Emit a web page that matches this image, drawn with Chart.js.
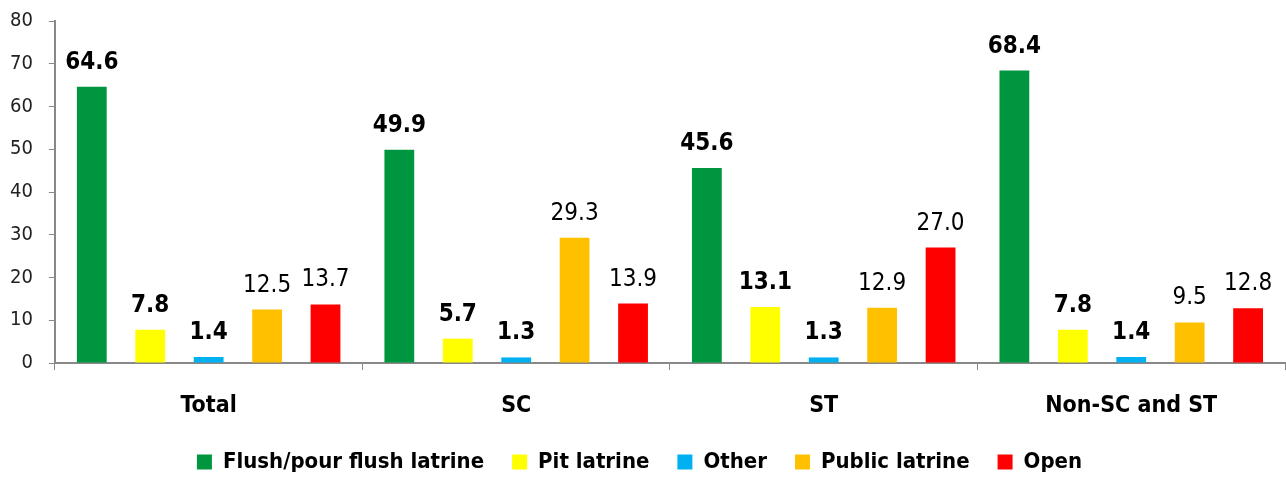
<!DOCTYPE html>
<html>
<head>
<meta charset="utf-8">
<script src="https://cdn.jsdelivr.net/npm/chart.js@4.4.1/dist/chart.umd.min.js"></script>
<style>
    html, body { margin: 0; padding: 0; background: #fff; }
    #wrap { width: 1286px; height: 477px; }
</style>
</head>
<body>
<div id="wrap"><canvas id="chart" width="1286" height="477"></canvas></div>
<script>
// 데이터
const categories = ['Total', 'SC', 'ST', 'Non-SC and ST'];
const flushValues = [64.6, 49.9, 45.6, 68.4];
const pitValues = [7.8, 5.7, 13.1, 7.8];
const otherValues = [1.4, 1.3, 1.3, 1.4];
const publicValues = [12.5, 29.3, 12.9, 9.5];
const openValues = [13.7, 13.9, 27.0, 12.8];
const yTicks = [0, 10, 20, 30, 40, 50, 60, 70, 80];

const FONT = "'Liberation Sans Narrow', 'DejaVu Sans Condensed', sans-serif";

// 막대 위 값 표시 (굵게: 앞의 3개 계열)
const valueLabels = {
    id: 'valueLabels',
    afterDatasetsDraw(chart) {
        const ctx = chart.ctx;
        ctx.save();
        chart.data.datasets.forEach((ds, i) => {
            const meta = chart.getDatasetMeta(i);
            ctx.font = (ds.boldLabel ? 'bold ' : '') + '24px ' + FONT;
            ctx.fillStyle = '#000';
            ctx.textAlign = 'center';
            ctx.textBaseline = 'alphabetic';
            meta.data.forEach((bar, j) => {
                ctx.fillText(ds.data[j].toFixed(1), bar.x, bar.y - 18);
            });
        });
        ctx.restore();
    }
};

function makeSet(label, data, color, bold) {
    return {
        label: label,
        data: data,
        backgroundColor: color,
        borderWidth: 0,
        barPercentage: 0.51,
        categoryPercentage: 0.95,
        boldLabel: bold
    };
}

new Chart(document.getElementById('chart'), {
    type: 'bar',
    data: {
        labels: categories,
        datasets: [
            makeSet('Flush/pour flush latrine', flushValues, '#00963F', true),
            makeSet('Pit latrine', pitValues, '#FFFF00', true),
            makeSet('Other', otherValues, '#00B0F0', true),
            makeSet('Public latrine', publicValues, '#FFC000', false),
            makeSet('Open', openValues, '#FF0000', false)
        ]
    },
    options: {
        responsive: false,
        animation: false,
        layout: { padding: { top: 2, left: -6, right: 1, bottom: -6 } },
        plugins: {
            tooltip: { enabled: false },
            legend: {
                position: 'bottom',
                labels: {
                    color: '#000',
                    font: { family: FONT, size: 22, weight: 'bold' },
                    boxWidth: 15,
                    boxHeight: 15,
                    padding: 28
                }
            }
        },
        scales: {
            x: {
                afterFit(axis) { axis.height = 60; },
                grid: { drawOnChartArea: false, color: '#888', tickLength: 7 },
                border: { color: '#888', width: 2 },
                ticks: {
                    color: '#000',
                    padding: 22,
                    font: { family: FONT, size: 23, weight: 'bold' }
                }
            },
            y: {
                min: 0,
                max: 80,
                afterBuildTicks(axis) {
                    axis.ticks = yTicks.map(v => ({ value: v }));
                },
                grid: { drawOnChartArea: false, color: '#888', tickLength: 6 },
                border: { color: '#888', width: 2 },
                ticks: {
                    color: '#222',
                    padding: 16,
                    font: { family: FONT, size: 20, lineHeight: 0.5 }
                }
            }
        }
    },
    plugins: [valueLabels]
});
</script>
</body>
</html>
